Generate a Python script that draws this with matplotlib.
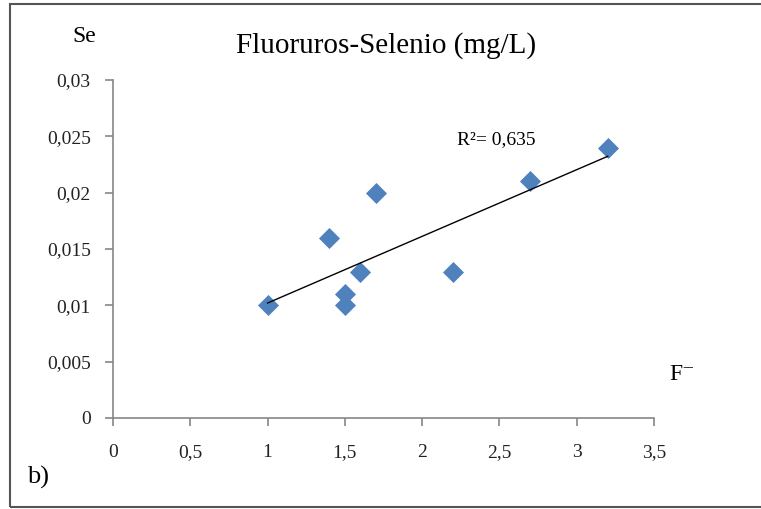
import numpy as np
import matplotlib
matplotlib.use('Agg')
import matplotlib.pyplot as plt
from matplotlib.patches import Rectangle
from matplotlib.ticker import FuncFormatter

# datos
fluoruros = [1.0, 1.4, 1.5, 1.5, 1.6, 1.7, 2.2, 2.7, 3.2]
selenio = [0.010, 0.016, 0.011, 0.010, 0.013, 0.020, 0.013, 0.021, 0.024]
x_ticks = [0, 0.5, 1, 1.5, 2, 2.5, 3, 3.5]
y_ticks = [0, 0.005, 0.01, 0.015, 0.02, 0.025, 0.03]
titulo = 'Fluoruros-Selenio (mg/L)'
texto_r2 = 'R²= 0,635'

plt.rcParams['font.family'] = ['Liberation Serif', 'DejaVu Serif']

fig = plt.figure(figsize=(7.61, 5.09), dpi=100)
ax = fig.add_axes([113 / 761, 1 - 418 / 509, 541 / 761, 338 / 509])

ax.scatter(fluoruros, selenio, marker='D', s=115, color='#4F81BD', zorder=3, linewidths=0)

# linea de tendencia lineal
m, b = np.polyfit(fluoruros, selenio, 1)
xs = np.array([min(fluoruros), max(fluoruros)])
ax.plot(xs, m * xs + b, color='black', lw=1.0, zorder=4)

ax.set_xlim(0, 3.5)
ax.set_ylim(0, 0.03)
ax.set_xticks(x_ticks)
ax.set_yticks(y_ticks)

coma = FuncFormatter(lambda v, p: ('%g' % v).replace('.', ','))
ax.xaxis.set_major_formatter(coma)
ax.yaxis.set_major_formatter(coma)

for lado in ['top', 'right']:
    ax.spines[lado].set_visible(False)
for lado in ['left', 'bottom']:
    ax.spines[lado].set_color('#868686')
    ax.spines[lado].set_linewidth(1.2)

ax.tick_params(axis='both', direction='out', length=6, width=1.2, color='#868686',
               labelsize=14, labelcolor='#222222')
ax.tick_params(axis='x', pad=13)
ax.tick_params(axis='y', pad=10)

fig.text(386 / 761, 1 - 46 / 509, titulo, ha='center', va='center', fontsize=21)
fig.text(84 / 761, 1 - 37 / 509, 'Se', ha='center', va='center', fontsize=17)
fig.text(682 / 761, 1 - 375 / 509, 'F⁻', ha='center', va='center', fontsize=17)
fig.text(38 / 761, 1 - 477 / 509, 'b)', ha='center', va='center', fontsize=19)
ax.text(2.48, 0.0247, texto_r2, ha='center', va='center', fontsize=14)

fig.patches.append(Rectangle((10 / 761, 2 / 509), 1.2, 1 - 6 / 509, transform=fig.transFigure,
                             fill=False, edgecolor='#555555', lw=1.5))

fig.savefig('out.png', dpi=100)
